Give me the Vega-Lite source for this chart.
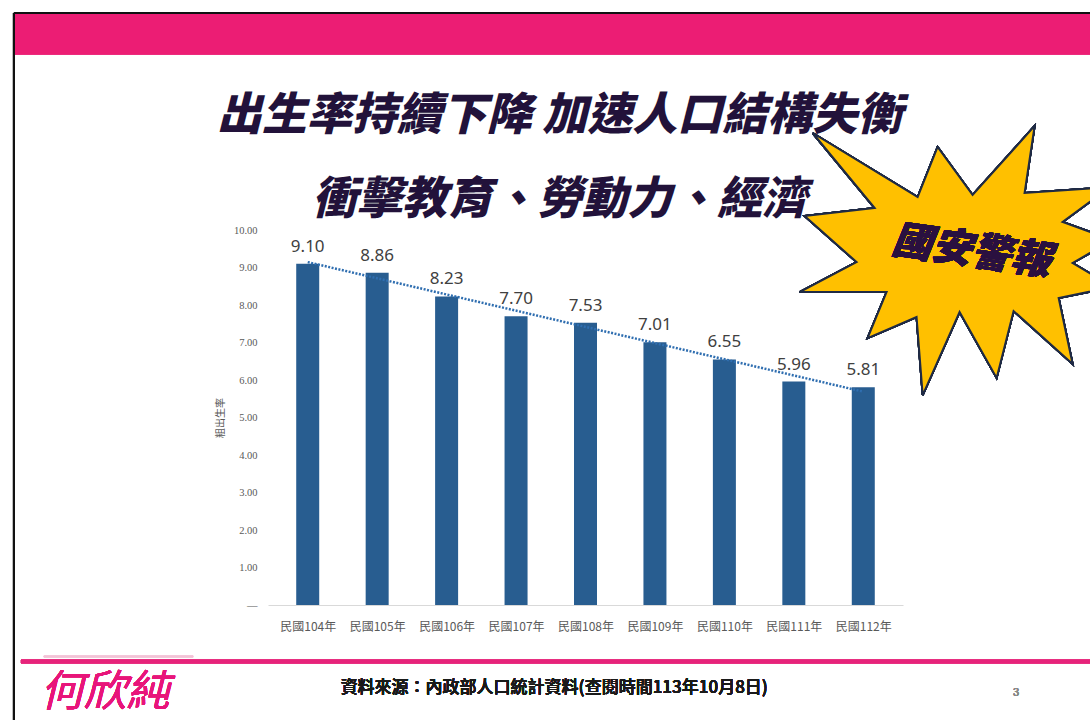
{
  "$schema": "https://vega.github.io/schema/vega-lite/v6.json",
  "autosize": {"type": "none"},
  "width": 635,
  "height": 375,
  "padding": {"left": 268, "top": 230, "right": 187, "bottom": 115},
  "background": "#ffffff",
  "config": {
    "view": {"stroke": null},
    "axis": {"labelOverlap": false, "labelBound": false},
    "axisY": {"tickCount": 11, "labelOverlap": false}
  },
  "title": {
    "text": ["出生率持續下降 加速人口結構失衡", "衝擊教育、勞動力、經濟"],
    "font": "Noto Sans CJK TC",
    "fontSize": 45,
    "fontWeight": 900,
    "fontStyle": "italic",
    "color": "#22123a",
    "lineHeight": 84,
    "anchor": "middle",
    "dx": -26,
    "offset": -211
  },
  "data": {
    "values": [
      {"period": "民國104年", "year": 104, "rate": 9.10},
      {"period": "民國105年", "year": 105, "rate": 8.86},
      {"period": "民國106年", "year": 106, "rate": 8.23},
      {"period": "民國107年", "year": 107, "rate": 7.70},
      {"period": "民國108年", "year": 108, "rate": 7.53},
      {"period": "民國109年", "year": 109, "rate": 7.01},
      {"period": "民國110年", "year": 110, "rate": 6.55},
      {"period": "民國111年", "year": 111, "rate": 5.96},
      {"period": "民國112年", "year": 112, "rate": 5.81}
    ]
  },
  "layer": [
    {
      "mark": {"type": "bar", "color": "#285d90", "size": 23},
      "encoding": {
        "x": {
          "field": "year",
          "type": "quantitative",
          "scale": {"domain": [103.5, 112.5], "nice": false, "zero": false},
          "axis": {
            "values": [104, 105, 106, 107, 108, 109, 110, 111, 112],
            "labelExpr": "'民國' + datum.value + '年'",
            "title": null,
            "grid": false,
            "ticks": false,
            "domainColor": "#d9d9d9",
            "domainWidth": 1.2,
            "labelFont": "Noto Sans CJK TC",
            "labelFontSize": 12,
            "labelColor": "#595959",
            "labelPadding": 16,
            "labelOverlap": false
          }
        },
        "y": {
          "field": "rate",
          "type": "quantitative",
          "scale": {"domain": [0, 10], "nice": false},
          "axis": {
            "values": [0, 1, 2, 3, 4, 5, 6, 7, 8, 9, 10],
            "tickCount": 11,
            "labelExpr": "datum.value == 0 ? '—' : format(datum.value, '.2f')",
            "title": "粗出生率",
            "titleFont": "Noto Sans CJK TC",
            "titleFontSize": 10,
            "titleFontWeight": "normal",
            "titleColor": "#595959",
            "titlePadding": 8,
            "grid": false,
            "ticks": false,
            "domain": false,
            "labelFont": "Liberation Serif",
            "labelFontSize": 10.5,
            "labelColor": "#595959",
            "labelPadding": 11,
            "labelOverlap": false
          }
        }
      }
    },
    {
      "mark": {"type": "rect", "color": "#ec1d74"},
      "encoding": {
        "x": {"datum": 99.77, "type": "quantitative"},
        "x2": {"datum": 115.4},
        "y": {"datum": 15.75, "type": "quantitative"},
        "y2": {"datum": 14.69}
      }
    },
    {
      "mark": {"type": "rule", "color": "#111111", "strokeWidth": 2},
      "encoding": {
        "x": {"datum": 99.77, "type": "quantitative"},
        "x2": {"datum": 115.4},
        "y": {"datum": 15.79, "type": "quantitative"}
      }
    },
    {
      "mark": {"type": "rule", "color": "#111111", "strokeWidth": 2},
      "encoding": {
        "x": {"datum": 99.77, "type": "quantitative"},
        "y": {"datum": 15.79, "type": "quantitative"},
        "y2": {"datum": -3.2}
      }
    },
    {
      "mark": {"type": "rule", "color": "#e6237a", "strokeWidth": 3.5},
      "encoding": {
        "x": {"datum": 99.87, "type": "quantitative"},
        "x2": {"datum": 115.4},
        "y": {"datum": -1.507, "type": "quantitative"}
      }
    },
    {
      "mark": {"type": "rule", "color": "#f2c4d6", "strokeWidth": 1.5},
      "encoding": {
        "x": {"datum": 100.2, "type": "quantitative"},
        "x2": {"datum": 102.35},
        "y": {"datum": -1.373, "type": "quantitative"}
      }
    },
    {
      "mark": {"type": "text", "text": "何欣純", "font": "Noto Sans CJK TC", "fontSize": 43, "fontStyle": "italic", "color": "#e8157a", "align": "center", "baseline": "middle"},
      "encoding": {
        "x": {"datum": 101.08, "type": "quantitative"},
        "y": {"datum": -2.35, "type": "quantitative"}
      }
    },
    {
      "mark": {"type": "text", "text": "資料來源：內政部人口統計資料(查閱時間113年10月8日)", "font": "Noto Sans CJK TC", "fontSize": 17, "fontWeight": 500, "color": "#1a1a1a", "align": "center", "baseline": "middle"},
      "encoding": {
        "x": {"datum": 107.55, "type": "quantitative"},
        "y": {"datum": -2.213, "type": "quantitative"}
      }
    },
    {
      "mark": {"type": "text", "text": "3", "font": "Liberation Sans", "fontSize": 11, "color": "#8a8a8a", "align": "center", "baseline": "middle"},
      "encoding": {
        "x": {"datum": 114.2, "type": "quantitative"},
        "y": {"datum": -2.347, "type": "quantitative"}
      }
    },
    {
      "transform": [{"regression": "rate", "on": "year"}],
      "mark": {"type": "line", "color": "#2f6eb0", "strokeWidth": 2.5, "strokeDash": [2, 1.5]},
      "encoding": {
        "x": {"field": "year", "type": "quantitative"},
        "y": {"field": "rate", "type": "quantitative"}
      }
    },
    {
      "mark": {"type": "text", "font": "Noto Sans", "fontSize": 17, "color": "#404040", "baseline": "bottom", "dy": -8},
      "encoding": {
        "x": {"field": "year", "type": "quantitative"},
        "y": {"field": "rate", "type": "quantitative"},
        "text": {"field": "rate", "type": "quantitative", "format": ".2f"}
      }
    },
    {
      "mark": {"type": "point", "shape": "M-0.914,-0.812L-0.245,-0.404L-0.118,-0.723L0.105,-0.417L0.5,-0.857L0.436,-0.43L0.978,-0.468L0.678,-0.245L0.997,-0.131L0.742,0.016L0.997,0.169L0.653,0.239L0.742,0.659L0.366,0.322L0.258,0.748L0.022,0.328L-0.213,0.857L-0.252,0.36L-0.564,0.494L-0.443,0.201L-0.997,0.201L-0.634,0.01L-0.965,-0.283L-0.519,-0.334Z", "size": 98596, "filled": true, "fill": "#ffc000", "stroke": "#1f2a44", "strokeWidth": 2, "opacity": 1, "fillOpacity": 1},
      "encoding": {
        "x": {"datum": 113.337, "type": "quantitative"},
        "y": {"datum": 9.187, "type": "quantitative"}
      }
    },
    {
      "mark": {"type": "text", "text": "國安警報", "font": "Noto Sans CJK TC", "fontSize": 40, "fontWeight": 900, "fontStyle": "italic", "color": "#2a1040", "angle": 8, "align": "center", "baseline": "middle"},
      "encoding": {
        "x": {"datum": 113.557, "type": "quantitative"},
        "y": {"datum": 9.413, "type": "quantitative"}
      }
    }
  ]
}
